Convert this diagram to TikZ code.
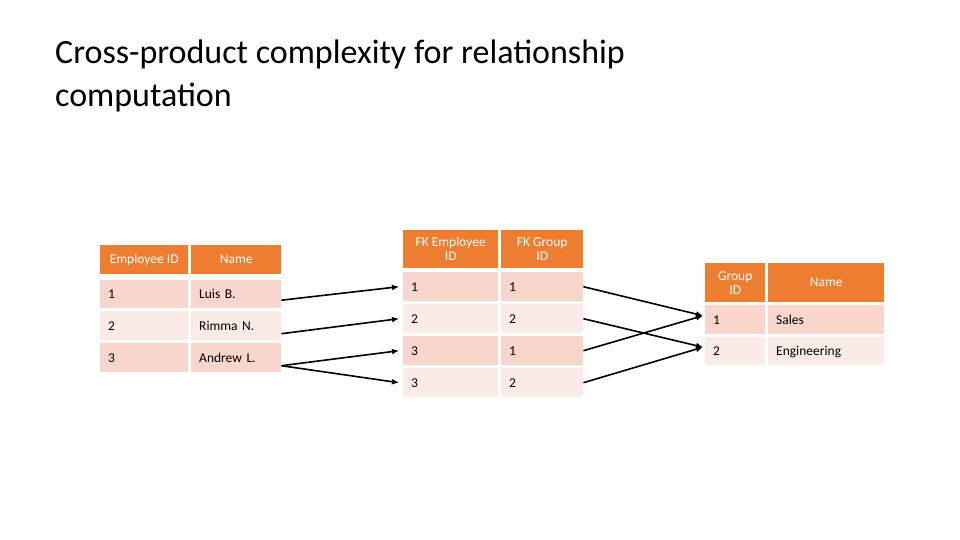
\documentclass[tikz,border=0pt]{standalone}
\usepackage{fontspec}
\setmainfont{Carlito}
\usepackage{tikz}
\usetikzlibrary{arrows,arrows.meta,calc}
\definecolor{hdr}{HTML}{ED7D31}
\definecolor{odd}{HTML}{F8D6CB}
\definecolor{even}{HTML}{FBEBE6}
\begin{document}
\begin{tikzpicture}[x=1pt,y=-1pt,>=latex,font=\fontsize{13.5}{14}\selectfont]
\tikzset{%
  cell/.style = {%
    anchor = north west,
    inner sep = 0pt,
    text width = #1-16pt,
    align = left,
    minimum width = #1,
    text depth = 0pt
  },
  head/.style = {%
    fill = hdr,
    text = white,
    anchor = north west,
    inner sep = 0pt,
    align = center,
    minimum width = #1
  },
  link/.style = {-{Latex[length=7pt,width=6pt]}, line width=1.6pt}
}
  \useasboundingbox (0,0) rectangle (960,540);

  \node[anchor=north west, align=left, inner sep=0pt,
    font=\fontsize{34}{43}\selectfont] (title) at (55,40)
    {Cross-product complexity for relationship\\computation};

  % employee table
  \node[head=88pt, minimum height=29pt] (empid) at (100,245) {Employee ID};
  \node[head=90pt, minimum height=29pt] (empname) at (191,245) {Name};
  \node[cell=88pt, fill=odd, minimum height=28pt] (e1) at (100,280) {1};
  \node[cell=90pt, fill=odd, minimum height=28pt] (luis) at (191,280) {Luis B.};
  \node[cell=88pt, fill=even, minimum height=29pt] (e2) at (100,311) {2};
  \node[cell=90pt, fill=even, minimum height=29pt] (rimma) at (191,311) {Rimma N.};
  \node[cell=88pt, fill=odd, minimum height=29pt] (e3) at (100,343) {3};
  \node[cell=90pt, fill=odd, minimum height=29pt] (andrew) at (191,343) {Andrew L.};

  % link table
  \node[head=95pt, minimum height=38pt] (fkemp) at (403,230) {FK Employee\\ID};
  \node[head=82pt, minimum height=38pt] (fkgrp) at (501,230) {FK Group\\ID};
  \node[cell=95pt, fill=odd, minimum height=29pt] (la1) at (403,272) {1};
  \node[cell=82pt, fill=odd, minimum height=29pt] (lb1) at (501,272) {1};
  \node[cell=95pt, fill=even, minimum height=29pt] (la2) at (403,304) {2};
  \node[cell=82pt, fill=even, minimum height=29pt] (lb2) at (501,304) {2};
  \node[cell=95pt, fill=odd, minimum height=29pt] (la3) at (403,336) {3};
  \node[cell=82pt, fill=odd, minimum height=29pt] (lb3) at (501,336) {1};
  \node[cell=95pt, fill=even, minimum height=29pt] (la4) at (403,368) {3};
  \node[cell=82pt, fill=even, minimum height=29pt] (lb4) at (501,368) {2};

  % group table
  \node[head=60pt, minimum height=39pt] (grpid) at (705,263) {Group\\ID};
  \node[head=116pt, minimum height=39pt] (grpname) at (768,263) {Name};
  \node[cell=60pt, fill=odd, minimum height=29pt] (g1) at (705,305) {1};
  \node[cell=116pt, fill=odd, minimum height=29pt] (sales) at (768,305) {Sales};
  \node[cell=60pt, fill=even, minimum height=28pt] (g2) at (705,337) {2};
  \node[cell=116pt, fill=even, minimum height=28pt] (eng) at (768,337) {Engineering};

  \draw[link] ($(luis.east)+(0,6)$) -- ($(la1.west)+(-4,0)$);
  \draw[link] ($(rimma.east)+(0,8)$) -- ($(la2.west)+(-4,0)$);
  \draw[link] ($(andrew.east)+(0,8)$) -- ($(la3.west)+(-4,0)$);
  \draw[link] ($(andrew.east)+(0,8)$) -- ($(la4.west)+(-4,0)$);

  \draw[link] (lb1.east) -- ($(g1.west)+(-2,-4)$);
  \draw[link] (lb2.east) -- ($(g2.west)+(-2,-4)$);
  \draw[link] (lb3.east) -- ($(g1.west)+(-2,-4)$);
  \draw[link] (lb4.east) -- ($(g2.west)+(-2,-4)$);
\end{tikzpicture}
\end{document}
